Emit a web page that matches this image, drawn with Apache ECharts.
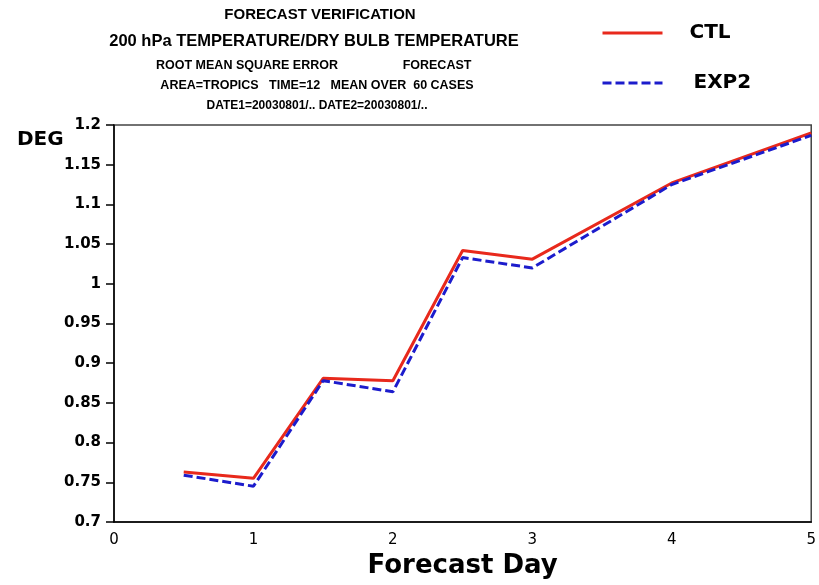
<!DOCTYPE html>
<html>
<head>
<meta charset="utf-8">
<script src="https://cdn.jsdelivr.net/npm/echarts@6/dist/echarts.min.js"></script>
<style>html,body{margin:0;padding:0;background:#fff}#c{width:819px;height:585px}</style>
</head>
<body>
<div id="c"></div>
<script>
var forecastDays = [0.5, 1, 1.5, 2, 2.5, 3, 4, 5];
var ctlValues  = [0.763, 0.755, 0.881, 0.878, 1.042, 1.031, 1.127, 1.190];
var exp2Values = [0.759, 0.745, 0.878, 0.864, 1.033, 1.020, 1.125, 1.187];
var seriesNames = ['CTL', 'EXP2'];
var titleLines = [
  'FORECAST VERIFICATION',
  '200 hPa TEMPERATURE/DRY BULB TEMPERATURE',
  'ROOT MEAN SQUARE ERROR',
  'FORECAST',
  'AREA=TROPICS   TIME=12   MEAN OVER  60 CASES',
  'DATE1=20030801/.. DATE2=20030801/..'
];
var yUnit = 'DEG';
var xName = 'Forecast Day';

function pairs(xs, ys) { return xs.map(function (x, i) { return [x, ys[i]]; }); }

var F = 'DejaVu Sans';
var TF = 'Liberation Sans';
var chart = echarts.init(document.getElementById('c'), null, {renderer: 'canvas'});
var legendCommon = {orient: 'vertical', left: 601, padding: 0, itemWidth: 60, itemHeight: 14,
  itemStyle: {color: 'rgba(0,0,0,0)', borderWidth: 0, opacity: 0},
  lineStyle: {width: 3}};
chart.setOption({
  animation: false,
  backgroundColor: '#fff',
  grid: {left: 114, right: 7, top: 125, bottom: 63, show: true, borderColor: '#444', borderWidth: 1.5, backgroundColor: 'transparent'},
  legend: [
    Object.assign({data: [seriesNames[0]], top: 23,
     textStyle: {fontFamily: F, fontSize: 20, fontWeight: 'bold', color: '#000', padding: [0, 0, 0, 22]}}, legendCommon),
    Object.assign({data: [seriesNames[1]], top: 73,
     textStyle: {fontFamily: F, fontSize: 20, fontWeight: 'bold', color: '#000', padding: [0, 0, 0, 26]}}, legendCommon)
  ],
  xAxis: {
    type: 'value', min: 0, max: 5, interval: 1,
    name: xName, nameLocation: 'middle', nameGap: 30,
    nameTextStyle: {fontFamily: F, fontSize: 26, fontWeight: 'bold', color: '#000'},
    axisLine: {show: true, lineStyle: {color: '#000', width: 1.5}},
    axisTick: {show: false},
    splitLine: {show: false},
    axisLabel: {fontFamily: F, fontSize: 15, color: '#000', margin: 11}
  },
  yAxis: {
    type: 'value', min: 0.7, max: 1.2, interval: 0.05,
    axisLine: {show: true, lineStyle: {color: '#000', width: 1.5}},
    axisTick: {show: true, inside: false, length: 8, lineStyle: {color: '#000', width: 1.5}},
    splitLine: {show: false},
    axisLabel: {fontFamily: F, fontSize: 15, fontWeight: 'bold', color: '#000', margin: 13,
      formatter: function (v) { return String(parseFloat(v.toFixed(2))); }}
  },
  graphic: [
    {type: 'text', x: 320, y: 15, style: {text: titleLines[0], font: 'bold 15px "' + TF + '"', fill: '#000', textAlign: 'center', textVerticalAlign: 'middle'}},
    {type: 'text', x: 314, y: 41, style: {text: titleLines[1], font: 'bold 16.5px "' + TF + '"', fill: '#000', textAlign: 'center', textVerticalAlign: 'middle'}},
    {type: 'text', x: 247, y: 66, style: {text: titleLines[2], font: 'bold 12.5px "' + TF + '"', fill: '#000', textAlign: 'center', textVerticalAlign: 'middle'}},
    {type: 'text', x: 437, y: 66, style: {text: titleLines[3], font: 'bold 12.5px "' + TF + '"', fill: '#000', textAlign: 'center', textVerticalAlign: 'middle'}},
    {type: 'text', x: 317, y: 86, style: {text: titleLines[4], font: 'bold 12.5px "' + TF + '"', fill: '#000', textAlign: 'center', textVerticalAlign: 'middle'}},
    {type: 'text', x: 317, y: 106, style: {text: titleLines[5], font: 'bold 12px "' + TF + '"', fill: '#000', textAlign: 'center', textVerticalAlign: 'middle'}},
    {type: 'text', x: 17, y: 140, style: {text: yUnit, font: 'bold 20px "' + F + '"', fill: '#000', textAlign: 'left', textVerticalAlign: 'middle'}}
  ],
  series: [
    {name: seriesNames[0], type: 'line', data: pairs(forecastDays, ctlValues), symbol: 'none', z: 3,
     lineStyle: {color: '#e8291c', width: 3}, itemStyle: {color: '#e8291c'}},
    {name: seriesNames[1], type: 'line', data: pairs(forecastDays, exp2Values), symbol: 'none', z: 4,
     lineStyle: {color: '#1c1ccc', width: 3, type: [9, 4]}, itemStyle: {color: '#1c1ccc'}}
  ]
});
</script>
</body>
</html>
